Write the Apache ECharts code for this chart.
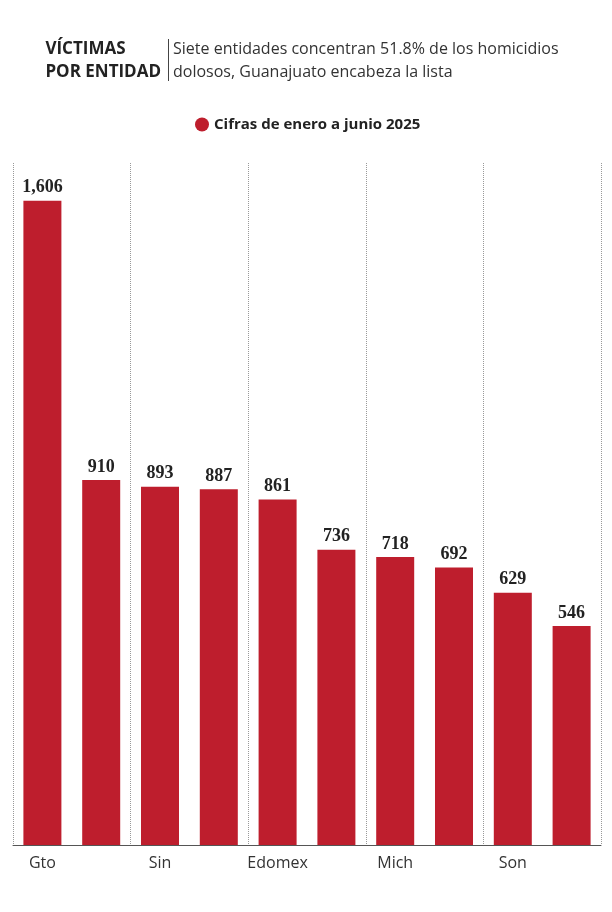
<!DOCTYPE html>
<html><head><meta charset="utf-8">
<script src="https://cdn.jsdelivr.net/npm/echarts@6/dist/echarts.min.js"></script>
<style>body{margin:0;background:#fff}#c{width:612px;height:912px}</style>
</head><body><div id="c"></div>
<script>
const categories = ['Gto','BC','Sin','Chih','Edomex','Gro','Mich','Jal','Son','Mor'];
const values = [1606,910,893,887,861,736,718,692,629,546];
const seriesName = 'Cifras de enero a junio 2025';
const chart = echarts.init(document.getElementById('c'));
chart.setOption({
  animation:false,
  graphic:[
    {type:'text',right:451,top:38,style:{text:'VÍCTIMAS\nPOR ENTIDAD',align:'right',fill:'#222',font:'bold 17px "Open Sans"',lineHeight:23}},
    {type:'rect',shape:{x:168,y:39,width:1,height:42},style:{fill:'#444'}},
    {type:'text',left:173,top:38,style:{text:'Siete entidades concentran 51.8% de los homicidios\ndolosos, Guanajuato encabeza la lista',fill:'#333',font:'16px "Open Sans"',lineHeight:23}}
  ],
  legend:{top:112,left:190,itemWidth:14,itemHeight:14,icon:'circle',itemGap:6,
    textStyle:{fontFamily:'Open Sans',fontWeight:'bold',fontSize:15,color:'#222'}},
  grid:{left:13,right:11,top:163,bottom:67},
  xAxis:{type:'category',data:categories,
    axisLine:{lineStyle:{color:'#555'}},
    axisTick:{length:5,lineStyle:{color:'#555'}},
    axisLabel:{fontFamily:'Open Sans',fontSize:16,color:'#333',margin:10},
    splitLine:{show:true,lineStyle:{type:'dotted',color:'#999'}}},
  yAxis:{type:'value',min:0,max:1700,show:false,splitLine:{show:false}},
  series:[{name:seriesName,type:'bar',data:values,barWidth:38,
    itemStyle:{color:'#be1e2d'},
    label:{show:true,position:'top',distance:4,color:'#222',fontFamily:'Liberation Serif',fontWeight:'bold',fontSize:18,
      formatter:p=>p.value.toLocaleString('en-US')}}]
});
</script></body></html>
